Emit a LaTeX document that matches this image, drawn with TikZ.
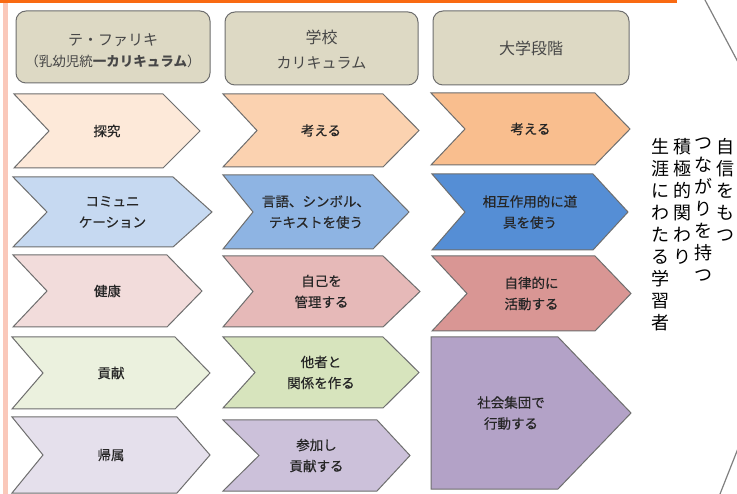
\documentclass[tikz,border=0pt]{standalone}
\usepackage{fontspec}
\setmainfont{Noto Sans CJK JP}
\newfontfamily\chevfont{Noto Sans CJK JP}[FakeBold=0.5]
\definecolor{hdrfill}{HTML}{DDD9C4}
\definecolor{linegray}{HTML}{6E6E6E}
\definecolor{txt}{HTML}{262626}
\definecolor{orangebar}{RGB}{249,106,18}
\definecolor{pinkbar}{RGB}{250,200,186}
\definecolor{aA}{HTML}{FDE9D9}
\definecolor{aB}{HTML}{C6D9F1}
\definecolor{aC}{HTML}{F2DCDB}
\definecolor{aD}{HTML}{EBF1DE}
\definecolor{aE}{HTML}{E5E0EC}
\definecolor{bA}{HTML}{FBD2B0}
\definecolor{bB}{HTML}{8EB4E3}
\definecolor{bC}{HTML}{E6B9B8}
\definecolor{bD}{HTML}{D7E4BD}
\definecolor{bE}{HTML}{CCC1DA}
\definecolor{cA}{HTML}{F9BE8E}
\definecolor{cB}{HTML}{558ED5}
\definecolor{cC}{HTML}{D99694}
\definecolor{cE}{HTML}{B3A2C7}
\tikzset{
  chev/.style={draw=linegray, line width=1pt, line join=miter},
  chevtext/.style={font=\chevfont\fontsize{13.5}{21}\selectfont, align=center, text=txt, inner sep=0pt},
  hdr/.style={draw=linegray, line width=1pt, fill=hdrfill, rounded corners=10pt},
  hdrtext/.style={font=\fontsize{16}{25}\selectfont, align=center, text=txt!85!white, inner sep=0pt},
  vtext/.style={font=\fontsize{18}{22}\selectfont, align=center, text=black, inner sep=0pt, anchor=north},
  outline/.style={draw=gray, line width=1.2pt}
}
\newcommand\chevbox[9]{%
  \filldraw[chev, fill=#2] (#3,#7) -- (#5,#7) -- (#6,{(#7+#8)/2}) -- (#5,#8) -- (#3,#8) -- (#4,{(#7+#8)/2}) -- cycle;
  \node[chevtext] (#1) at ({(#3+#6)/2},{(#7+#8)/2}) {#9};
}
\begin{document}
\begin{tikzpicture}[x=1pt,y=-1pt]
\useasboundingbox (0,0) rectangle (737,494);
\clip (0,0) rectangle (737,494);
\fill[white] (0,0) rectangle (737,494);
% top bar and left stripe
\fill[orangebar] (0,0) rectangle (677,3.5);
\fill[pinkbar] (3,3.5) rectangle (7.5,494);
% big outline on right
\coordinate (o1) at (705,0);
\coordinate (o2) at (739,64);
\coordinate (o3) at (739,446);
\coordinate (o4) at (720,494);
\draw[outline] (o1) -- (o2);
\draw[outline] (o3) -- (o4);
% headers
\draw[hdr] (16,11) rectangle (210,83);
\node[hdrtext] (h1a) at (113,40) {\fontsize{15}{20}\selectfont テ・ファリキ};
\node[hdrtext] (h1b) at (113,61) {\fontsize{13.5}{18}\selectfont （乳幼児統\textbf{一カリキュラム}）};
\draw[hdr] (225,12) rectangle (418,85);
\node[hdrtext] (h2) at (321.5,49.5) {学校\\\fontsize{15}{25}\selectfont カリキュラム};
\draw[hdr] (433,11) rectangle (629,85);
\node[hdrtext] (h3) at (531,48) {大学段階};
% column 1
\chevbox{a1}{aA}{14}{49}{163}{200}{94}{168}{探究}
\chevbox{a2}{aB}{13}{47}{173}{212}{177}{247}{コミュニ\\ケーション}
\chevbox{a3}{aC}{13}{47}{167}{202}{255}{327}{健康}
\chevbox{a4}{aD}{12}{43}{175}{210}{337}{409}{貢献}
\chevbox{a5}{aE}{12}{43}{177}{210}{417}{493}{帰属}
% column 2
\chevbox{b1}{bA}{223}{257}{383}{419}{94}{167}{考える}
\chevbox{b2}{bB}{223}{253}{373}{409}{175}{249}{言語、シンボル、\\テキストを使う}
\chevbox{b3}{bC}{223}{253}{383}{420}{256}{327}{自己を\\管理する}
\chevbox{b4}{bD}{223}{255}{383}{419}{337}{408}{他者と\\関係を作る}
\chevbox{b5}{bE}{223}{259}{377}{410}{420}{491}{参加し\\貢献する}
% column 3
\chevbox{c1}{cA}{431}{465}{595}{630}{93}{165}{考える}
\chevbox{c2}{cB}{432}{465}{593}{628}{174}{250}{相互作用的に道\\具を使う}
\chevbox{c3}{cC}{432}{467}{595}{631}{256}{331}{自律的に\\活動する}
\filldraw[chev, fill=cE] (431,337) -- (558,337) -- (631,413) -- (558,489) -- (431,489) -- cycle;
\node[chevtext] (c4) at (511,413) {社会集団で\\行動する};
% vertical text
\node[vtext] (v1) at (725,138) {自\\信\\を\\も\\つ};
\node[vtext] (v2) at (703.5,138) {つ\\な\\が\\り\\を\\持\\つ};
\node[vtext] (v3) at (682,138) {積\\極\\的\\関\\わ\\り};
\node[vtext] (v4) at (660,138) {生\\涯\\に\\わ\\た\\る\\学\\習\\者};
\end{tikzpicture}
\end{document}
